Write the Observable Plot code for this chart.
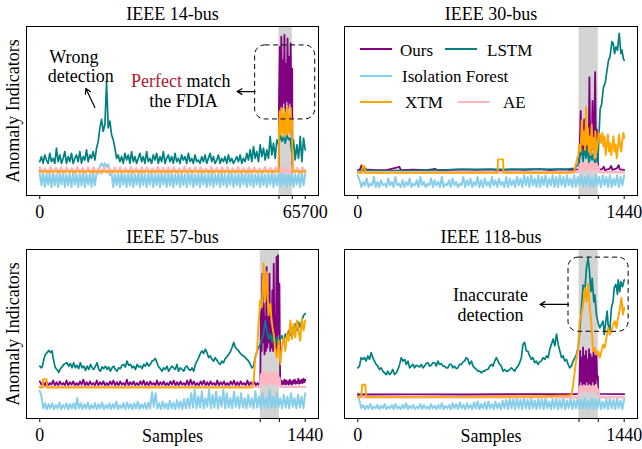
<!DOCTYPE html>
<html><head><meta charset="utf-8">
<script src="https://cdn.jsdelivr.net/npm/d3@7"></script>
<script src="https://cdn.jsdelivr.net/npm/@observablehq/plot@0.6"></script>
<style>
body{margin:0;background:#fff;}
#fig{position:relative;width:642px;height:449px;background:#fff;overflow:hidden;}
.panel{position:absolute;}
.panel svg{overflow:visible;background:none !important;}
#legend{position:absolute;left:0;top:0;pointer-events:none;}
</style></head><body><div id="fig"></div>
<script>
// ---------- general ----------
const FONT = "'Liberation Serif','Times New Roman',serif";
const seriesNames = ["Ours","LSTM","Isolation Forest","XTM","AE"];
const seriesColors = ["#800080","#008080","#87CEEB","#FFA500","#FFB6C1"];
const titles = ["IEEE 14-bus","IEEE 30-bus","IEEE 57-bus","IEEE 118-bus"];
const sampleEnds = [65700,1440,1440,1440];
const attackWindows = [[59200,62500],[1196,1300],[1196,1300],[1196,1300]];

// Series entries: [x, value] points, or [x0, x1, [values]] evenly spaced runs.
// ---------- IEEE 14-bus ----------
const lstm14 = [[0,65700,[20,23,19,24,21,19,25,20,22,19,
28,20,24,19,22,26,19,23,20,25,
19,22,24,20,26,19,23,21,27,20,
24,22,26,21,28,
32,40,45,38,42,67,40,44,36,33,28,
22,24,20,23,19,25,21,24,19,26,20,23,19,22,
25,20,23,19,26,20,22,19,24,21,25,19,23,20,26,19,22,24,20,23,
19,25,20,22,19,24,21,23,19,25,20,22,19,24,20,21,19,23,20,24,
19,22,25,20,23,19,21,24,19,22,20,23,19,24,20,22,19,21,23,20,
24,19,22,20,25,21,27,20,
29,22,26,20,30,23,28,21,27,22,35,24,31,22,33,
30,36,32,35,31,36,33,34,25,
33,21,30,22,35,20,34,27]]];
const iforest14 = [[0,65700,[13,6,13.5,5,12.5,6.5,13,5,13.5,6,12.5,5,13,6.5,13.5,5,12.5,6,13,5,13.5,6.5,12.5,5,13,6,13.5,5,12.5,6.5,13,5,13.5,6,13,
13,17,19,17.5,19,17,18.5,12,
13.5,5,12.5,6,13,5,13.5,6.5,12.5,5,13,6,13.5,5,12.5,6.5,13,5,13.5,6,12.5,5,13,6.5,
13.5,5,12.5,6,13,5,13.5,6.5,12.5,5,13,6,13.5,5,12.5,6.5,13,5,13.5,6,12.5,5,13,6.5,
13.5,5,12.5,6,13,5,13.5,6.5,12.5,5,13,6,13.5,5,12.5,6.5,13,5,13.5,6,12.5,5,13,6.5,
13.5,5,12.5,6,13,5,13.5,6.5,12.5,5,13,6,13.5,5,12.5,6.5,13,5,13.5,6,12.5,5,13,6.5,
13.5,5,12.5,6,13,5,13.5,6.5,12.5,5,13,6,13.5,5,12.5,6.5,13,5,13.5,6,13]]];
const ae14 = [[0,65700,[16.5,13.5,16,13,16.8,13.5,16.2,13,16.5,13.2, 16.5,13.5,16,13,16.8,13.5,16.2,13,16.5,13.2, 16.5,13.5,16,13,16.8,13.5,16.2,13,16.5,13.2, 16.5,13.5,16,13,16.8,13.5,16.2,13,16.5,13.2, 16.5,13.5,16,13,16.8,13.5,16.2,13,16.5,13.2, 16.5,13.5,16,13,16.8,13.5,16.2,13,16.5,13.2, 16.5,13.5,16,13,16.8,13.5,16.2,13,16.5,13.2, 16.5,13.5,16,13,16.8,13.5,16.2,13,16.5,13.2, 16.5,13.5,16,13,16.8,13.5,16.2,13,16.5,13.2, 16.5,13.5,16,13,16.8,13.5,16.2,13,16.5,13.2]]];
const xtm14 = [[0,14.2],[59150,14.2],[59200,62480,[40,50,36,52,38,48,35,51,37,49,36,53,38,47,36,52,40,45]],[62530,14.2],[65700,14.2]];
const ours14 = [[0,14.5],[59150,14.5],[59200,62480,[55,88,50,94,52,80,55,95,50,78,56,93,52,82,55,90,52,75]],[62530,14.5],[65700,14.5]];

// ---------- IEEE 30-bus ----------
const lstm30 = [[0,14.5],[18,15],[36,16.3],[54,15],[90,14.8],[150,14.6],[220,14.9],[300,14.8],[380,15],[450,15.1],[520,15.3],[600,15.4],[680,15.5],[760,15.4],[840,15.5],[920,15.6],[1000,15.5],[1080,15.6],[1140,15.7],[1170,16],[1190,18],[1200,23],[1210,27],[1218,20],[1226,29],[1234,22],[1242,28],[1250,19],[1258,26],[1266,21],[1274,25],[1282,18],[1290,22],[1298,20],[1302,31],[1310,51],[1318,54],[1328,64],[1338,67],[1347,74],[1355,80],[1363,82],[1374,91],[1381,90],[1388,84],[1396,88],[1404,86],[1413,96],[1422,84],[1428,86],[1436,81],[1440,80]];
const iforest30 = [[0,1440,[12,9,5,8,6,10,5,7,6,11, 5,8,5,9,6,7,5,10,6,8, 5,11,6,7,5,9,5,8,6,10, 5,7,6,9,5,11,6,8,5,7, 6,10,5,9,6,8,5,11,5,7, 6,9,5,10,6,8,5,7,6,11, 5,9,6,10,5,8,6,11,5,9, 5,10,6,8,5,11,6,9,5,10, 6,8,5,11,5,10,6,9,5,11, 6,10,
5,12,6,11,5,12,6,10,5,12, 5,11,6,12,5,10,6,12,5,11, 5,12,6,11,5,12,6,10,5,12, 5,11,6,12,5,11,6,12,5,10, 5,12,6,11,5,12,6,11,5,12, 5,10,6,12,5,11,6,12]]];
const xtm30 = [[0,13.5],[22,13.5],[27,17.4],[36,17.4],[40,13.5],[755,13.5],[758,21.4],[785,21.4],[788,13.5],[1000,13.5],[1150,13.5],[1168,14],[1178,18],[1186,22],[1192,24],[1198,30],[1204,26],[1211,44.6],[1217,30],[1223,38],[1229,27],[1234,52.5],[1239,30],[1244,40],[1249,26],[1254,35],[1259,24],[1264,42],[1269,28],[1274,34],[1279,22],[1284,38],[1290,25],[1296,30],[1302,37],[1309,36],[1316,31],[1322,37],[1328,29],[1334,35],[1340,24],[1346,30],[1352,36],[1358,26],[1364,31],[1370,24],[1376,29],[1382,35],[1388,26],[1394,30],[1400,22],[1406,28],[1412,36],[1418,30],[1424,26],[1430,33],[1436,37],[1440,34]];
const ae30 = [[0,13.8],[1190,13.8],[1196,1300,[15,18.5,15.5,19,15,18.8,15.5,18.5,15,19,15.5,18.6,15,18.8,15.5,18.5,15,19,15.5,18.5,15,18.8,15.5,17]],[1306,13.8],[1440,13.8]];
const ours30 = [[0,15],[10,15.2],[20,17.8],[28,15],[60,15.3],[100,15],[160,15.2],[225,17],[232,15],[300,15.3],[370,15],[420,15.8],[428,15],[480,15.1],[560,15.4],[640,15.2],[720,15.5],[760,15],[840,15.4],[900,15.2],[980,15.6],[1040,15.1],[1100,15.4],[1150,15.2],[1190,15.5],[1196,16],[1200,30],[1205,50],[1210,28],[1215,38],[1220,25],[1224,45],[1229,27],[1234,36],[1239,26],[1244,40],[1248,28],[1252,70],[1256,30],[1260,42],[1264,27],[1269,56],[1273,30],[1278,35],[1283,73],[1287,30],[1292,39],[1296,25],[1300,16],[1305,15.5],[1320,15.5],[1330,17],[1336,15],[1360,15.8],[1370,17.5],[1376,15.2],[1400,16],[1410,18],[1416,15.5],[1440,15.2]];

// ---------- IEEE 57-bus ----------
const lstm57 = [[0,31],[7,30],[13,30.5],[22,35],[31,38],[40,39],[49,40.3],[58,39],[67,40],[72,36],[80,32],[85,30],[94,29],[103,27.2],[112,29.5],[121,30.5],[130,32],[139,32.5],[148,33],[157,31],[166,32.5],[175,30],[184,33],[193,30],[202,31.5],[211,29.5],[220,33],[229,30],[239,31],[248,28.5],[257,31],[266,29],[275,32],[284,30],[293,29],[302,31],[311,33],[320,29],[329,28],[338,30.5],[347,29.5],[356,31],[365,29],[374,30.5],[383,28],[392,30],[401,31],[410,29],[419,28],[428,30],[437,29.5],[446,31.5],[455,32],[464,30.5],[473,34],[482,31.5],[492,32],[501,30],[510,31],[519,29],[528,32],[537,30.5],[546,31],[555,29.5],[564,32],[573,31],[582,33],[591,31],[600,32],[609,34],[618,34.5],[627,35.5],[636,33],[645,30.5],[654,29.5],[663,28],[672,30],[681,29],[690,31],[699,28],[708,29.5],[717,31],[726,30],[735,29],[744,32],[753,28],[763,30],[772,29],[781,28],[790,30.5],[799,31],[808,29],[817,28.5],[826,30],[835,28],[844,32],[853,34],[862,36],[871,38.5],[880,40],[889,38.5],[898,41],[907,39],[916,36],[925,37],[934,35],[943,34],[952,36],[961,34.5],[970,33],[979,32],[988,34],[997,33],[1006,35.5],[1016,36.5],[1025,38],[1034,39.5],[1043,42],[1052,45],[1061,42],[1070,41],[1079,40],[1088,38.5],[1097,37.5],[1106,37],[1115,36],[1124,35],[1133,34],[1142,32],[1151,30],[1160,31],[1169,36.5],[1178,39.5],[1187,42],[1196,44],[1205,47],[1214,50],[1223,58],[1232,52],[1241,47],[1251,50],[1260,45],[1269,50],[1278,44],[1287,48],[1296,45],[1305,47],[1314,49],[1323,45],[1332,50],[1341,48],[1350,52],[1359,49],[1368,54],[1377,50],[1386,56],[1395,52],[1404,57],[1413,54],[1422,58],[1431,61],[1440,62]];
const iforest57 = [[0,1440,[16.3,13,6,9,5.5,8.5,6,9,5.5,8, 6,9.5,5.5,8,6,9,5.5,8.5,6,9, 5.5,12,6,9,5.5,8.5,6,9.5,5.5,8, 6,9,5.5,8.5,6,9.5,5.5,8,6,9, 5.5,8.5,6,10,5.5,8,6,9,5.5,9.5, 6,8.5,5.5,9,6,10,5.5,8.5,6,9, 5.5,9.5,6,15.5,7,15,6,9,5.5,10, 6,9,5.5,10.5,6,9.5,5.5,11,6,10, 5.5,11.5,6,12,6,15,6.5,17,6,13, 6.5,16,6,12,7,17,6,14,6.5,16, 6,13,7,17,6,15,6.5,12,6,16, 7,13,6,15,6.5,12,6,14,7,12, 6,16,6.5,13,6,15,7,12,6,17, 6.5,13,6,15,7,12,6,14,6.5,13, 6,15,7,12,6,14,6.5,13,6,15]]];
const xtm57 = [[0,18.3],[15,18.3],[18,23.2],[36,23.2],[40,18.3],[600,18.3],[1151,18.3],[1160,22.2],[1169,36],[1178,39],[1187,56],[1196,70],[1205,66],[1210,78],[1214,91.7],[1219,75],[1223,70],[1228,80],[1232,86.7],[1237,70],[1241,61],[1246,66],[1251,68],[1256,60],[1260,56],[1265,52],[1269,50],[1274,44],[1278,40],[1283,38],[1287,36],[1292,42],[1296,46],[1301,38],[1305,32],[1310,38],[1314,42],[1319,46],[1323,48],[1328,44],[1332,40],[1337,46],[1341,50],[1346,48],[1350,46],[1355,52],[1359,58],[1364,52],[1368,47],[1373,50],[1377,56],[1382,52],[1386,48],[1391,54],[1395,58],[1400,56],[1404,52],[1409,48],[1413,46],[1418,54],[1422,59],[1427,56],[1431,52],[1436,55],[1440,58]];
const ae57 = [[0,18.7],[1192,18.7],[1196,1300,[20,26,21,27,20.5,26.5,21,27.5,20,26,21,27,20.5,26.5,21,27,20,26.5,21,27,20.5,26,21,24]],[1305,18.7],[1440,18.7]];
const ours57 = [[0,1190,[22,20,21.5,19.5,22,19.5,21,20,22.5,19.5,21.5,19.5,22,20,21,19.5,22.5,19.5,21.5,20,22,19.5,21,19.5,22,20,23,19.5,21.5,19.5,22,20,21,19.5,22.5,19.5,21.5,20,22,19.5,21,19.5,22,20,22.5,19.5,21.5,19.5,22,20,21,19.5,23,19.5,21.5,20,22,19.5,21,19.5,22,20,22.5,19.5,21.5,19.5,22,20,21,19.5,22.5,19.5,21.5,20,22,19.5,21,19.5,22,20,22.5,19.5,21.5,19.5,22,20,21,19.5,22.5,19.5,23,20,22,19.5,21,19.5,22,20,22.5,19.5,21.5,19.5,22,20,21,19.5,22.5,19.5,21.5,20,22,19.5,21,19.5,22,20,22.5,19.5,21.5,19.5,22,20,21,19.5,22.5,19.5,21.5,20,22,19.5,21,19.5]],
 [1196,1300,[22,64,40,85.7,45,67.9,38,60,40,89.7,42,60,45,85.7,40,56,42,75.8,40,91.7,45,60,42,95.6,40,96.6,50,79.8]],
 [1304,1440,[21,22.5,20,22,20.5,23,20,22.5,20.5,22,20,23,20.5,22,20,22.5,21,23,20.5,22,21,23.5,20.5,22.5,21,23,21,23.5,21.5,23]]];

// ---------- IEEE 118-bus ----------
const lstm118 = [[0,30],[9,31],[18,36],[27,35],[36,36],[45,34],[54,37],[63,35],[72,39],[81,36],[90,34],[99,32],[108,31],[117,29],[126,30],[135,28],[144,27],[153,26],[162,28],[171,26],[180,27],[189,29],[198,26],[208,27],[217,29],[226,32],[235,36],[244,34],[253,35],[262,32],[271,34],[280,30],[289,31],[298,32],[307,30],[316,31.5],[325,31],[334,30.5],[343,32],[352,30],[361,31],[370,32.5],[379,33],[388,31],[397,31.5],[406,33],[415,33],[424,31],[433,34],[442,32],[451,32.5],[460,31],[469,31],[478,30],[487,30],[496,32],[505,32],[514,30],[523,31],[532,29.5],[541,30],[550,32],[559,32],[568,33.5],[577,34],[586,36],[595,35],[604,32],[614,34],[623,31],[632,30],[641,29],[650,28],[659,28],[668,27],[677,28],[686,28],[695,29],[704,29],[713,31],[722,32],[731,31],[740,34],[749,36],[758,34],[767,32],[776,31],[785,28],[794,29],[803,28],[812,28],[821,29],[830,30],[839,29],[848,28],[857,30],[866,31],[875,33],[884,36],[893,44],[902,45],[911,40],[920,39.8],[929,37],[938,35],[947,36],[956,33],[965,34],[974,32],[983,33.5],[992,34],[1001,36],[1011,35],[1020,37],[1029,36],[1038,41],[1047,44],[1056,47],[1065,43],[1074,50],[1083,44],[1092,40],[1101,36],[1110,37],[1119,34],[1128,35],[1137,32],[1146,30],[1155,31],[1164,34],[1173,36],[1182,38],[1191,42],[1200,52],[1209,65.5],[1218,79],[1227,75],[1236,89],[1245,95],[1251,89],[1260,75],[1267,83],[1276,69],[1281,73],[1290,61.5],[1299,56.6],[1308,53.6],[1317,55.6],[1326,57.6],[1332,49.7],[1339,55.6],[1348,63.5],[1353,55.6],[1362,51.7],[1371,65.5],[1380,69.4],[1386,77.3],[1395,79.3],[1404,73.4],[1407,82],[1416,75],[1422,81],[1431,78],[1440,82]];
const iforest118 = [[0,1440,[15,10,6,8,5.5,7.5,6,8.5,5.5,7, 6,8,5.5,7.5,6,8.5,5.5,7,6,8, 5.5,8.5,6,7,5.5,8,6,9,5.5,7.5, 6,8,5.5,7,6,8.5,5.5,8,6,7, 5.5,8.5,6,7.5,5.5,8,6,9,5.5,7.5, 6,8,5.5,9,6,8.5,5.5,9.5,6,8, 5.5,9,6,8,5.5,9.5,6,10,5.5,8.5, 6,9.5,5.5,10,6,8.5,5.5,10,6,9, 5.5,10.5,6,11,5.5,12,6,11.5,5.5,12, 6,11,5.5,12.2,6,11,5.5,12,6,10.5, 5.5,12,6,11.5,5.5,12.2,6,10,5.5,11.5, 6,12,5.5,11,6,12.2,5.5,10.5,6,12, 5.5,11,6,12.5,5.5,11,6,12,5.5,10.5, 6,12,5.5,11.5,6,12.2,5.5,10,6,11.5, 5.5,12,6,11,5.5,12.2,6,10.5,5.5,11.5]]];
const xtm118 = [[0,12.8],[18,12.8],[24,20],[40,20],[46,12.8],[500,12.8],[1000,13.2],[1140,13.6],[1155,14],[1164,20],[1173,28],[1182,36],[1191,41.8],[1200,57.6],[1209,61.5],[1218,67],[1227,77.3],[1236,69],[1245,79.9],[1254,65.5],[1263,55.6],[1272,39.8],[1281,41.8],[1290,37.9],[1299,39.8],[1308,35.9],[1317,39.8],[1326,43.8],[1335,41.8],[1344,47.7],[1353,53.6],[1362,49.7],[1371,51.7],[1380,55.6],[1389,57.6],[1398,53.6],[1407,59.6],[1416,64.5],[1425,71.4],[1434,61.5],[1440,65.5]];
const ae118 = [[0,12.6],[1192,12.6],[1196,1300,[16,19,16.5,19,16,18.8,16.5,19,16,18.8,16.5,19,16,18.8,16.5,19,16,18.8,16.5,19,16,17]],[1304,12.6],[1440,12.6]];
const ours118 = [[0,14.2],[300,14.3],[600,14.2],[900,14.4],[1190,14.4],[1196,16],[1198,1298,[20,40,22,36,19,42,21,37,20,40,22,35,20,41,21,38,19,36,22,40,20,37,21,39,23,25]],[1300,14.6],[1440,14.4]];

// ---------- annotations ----------
const notes14 = [
  {text:"Wrong", x:8430, y:78.6, anchor:"middle", fill:"#000"},
  {text:"detection", x:10160, y:67, anchor:"middle", fill:"#000"},
  {text:"Perfect", x:35200, y:64.1, anchor:"end", fill:"#B0172F"},
  {text:"match", x:36320, y:64.1, anchor:"start", fill:"#000"},
  {text:"the FDIA", x:35570, y:52.2, anchor:"middle", fill:"#000"}
];
const arrows14 = [{x1:13635,y1:52.1,x2:11403,y2:63.3},{x1:53300,y1:61.5,x2:48840,y2:61.5}];
const boxes14 = [{x1:53300,x2:68170,y1:45,y2:88.8}];
const notes118 = [
  {text:"Inaccurate", x:717, y:69.4, anchor:"middle", fill:"#000"},
  {text:"detection", x:717, y:57.6, anchor:"middle", fill:"#000"}
];
const arrows118 = [{x1:1139,y1:67.5,x2:985,y2:67.5}];
const boxes118 = [{x1:1139,x2:1464,y1:51.3,y2:95.2}];

// ---------- helpers ----------
function expand(entries){
  const out=[];
  for(const e of entries){
    if(e.length===3 && Array.isArray(e[2])){
      const [a,b,vals]=e, n=vals.length;
      vals.forEach((v,i)=>out.push({x: a+(b-a)*i/(n-1), y:v}));
    } else out.push({x:e[0], y:e[1]});
  }
  return out;
}

const panels = [
  {series:[ours14,lstm14,iforest14,xtm14,ae14], pos:[0,0,224], m:[26,3,26,29], ylab:true, xlab:false, notes:notes14, arrows:arrows14, boxes:boxes14},
  {series:[ours30,lstm30,iforest30,xtm30,ae30], pos:[321,0,224], m:[23,5,26,29], ylab:false, xlab:false},
  {series:[ours57,lstm57,iforest57,xtm57,ae57], pos:[0,224,225], m:[26,3,25,31], ylab:true, xlab:true},
  {series:[ours118,lstm118,iforest118,xtm118,ae118], pos:[321,224,225], m:[23,5,25,31], ylab:false, xlab:true, notes:notes118, arrows:arrows118, boxes:boxes118}
];
// drawing order: Isolation Forest, Ours, LSTM, AE, XTM
const drawOrder = [2,0,1,4,3];
const widths = [1.8,1.7,2,1.9,2.4];

const fig = document.getElementById("fig");
panels.forEach((p,k)=>{
  const end = sampleEnds[k];
  const win = attackWindows[k];
  const marks = [
    Plot.rect([win], {x1:d=>d[0], x2:d=>d[1], fill:"#d3d3d3"})
  ];
  for(const s of drawOrder){
    marks.push(Plot.line(expand(p.series[s]), {x:"x", y:"y", stroke:seriesColors[s], strokeWidth:widths[s]}));
  }
  marks.push(Plot.frame({stroke:"#000", strokeWidth:1}));
  marks.push(Plot.axisX({ticks:[0,win[0],win[1],end], tickFormat:d=>(d===0||d===end)?String(d):"", tickSize:4, tickPadding:6, label:null, fontSize:18, stroke:"#000", fill:"#000"}));
  marks.push(Plot.text([titles[k]], {text:d=>d, frameAnchor:"top", dy:-7, lineAnchor:"bottom", fontSize:18, fill:"#000"}));
  if(p.ylab) marks.push(Plot.text(["Anomaly Indicators"], {text:d=>d, frameAnchor:"left", textAnchor:"middle", rotate:-90, dx:-8, lineAnchor:"bottom", fontSize:18, fill:"#000"}));
  if(p.xlab) marks.push(Plot.text(["Samples"], {text:d=>d, frameAnchor:"bottom", dy:23, lineAnchor:"bottom", fontSize:18, fill:"#000"}));
  if(p.boxes) marks.push(Plot.rect(p.boxes, {x1:"x1", x2:"x2", y1:"y1", y2:"y2", fill:"none", stroke:"#000", strokeWidth:1, strokeDasharray:"5,3.5", rx:10}));
  if(p.arrows) marks.push(Plot.arrow(p.arrows, {x1:"x1", y1:"y1", x2:"x2", y2:"y2", stroke:"#000", strokeWidth:1.2, headLength:7}));
  if(p.notes){
    for(const a of ["middle","start","end"]){
      const sub = p.notes.filter(n=>n.anchor===a);
      if(sub.length) marks.push(Plot.text(sub, {x:"x", y:"y", text:"text", fill:"fill", textAnchor:a, lineAnchor:"bottom", fontSize:18}));
    }
  }
  const svg = Plot.plot({
    width:321, height:p.pos[2],
    marginLeft:p.m[0], marginRight:p.m[1], marginTop:p.m[2], marginBottom:p.m[3],
    x:{domain:[-0.05*end, 1.05*end]},
    y:{domain:[0,100], axis:null},
    style:{fontFamily:FONT, fontSize:"18px", background:"none", overflow:"visible", color:"#000"},
    marks
  });
  const div = document.createElement("div");
  div.className="panel";
  div.style.left=p.pos[0]+"px"; div.style.top=p.pos[1]+"px";
  div.appendChild(svg);
  fig.appendChild(div);
});

// ---------- legend (in the IEEE 30-bus panel) ----------
const legendLayout = [
  {i:0, lx:360, ly:49, tx:400, ty:55.5},
  {i:1, lx:445, ly:49, tx:487, ty:55.5},
  {i:2, lx:360, ly:76, tx:402, ty:82},
  {i:3, lx:360, ly:102, tx:405, ty:108},
  {i:4, lx:458, ly:102, tx:503, ty:108}
];
const leg = d3.create("svg").attr("id","legend").attr("width",642).attr("height",449);
for(const L of legendLayout){
  leg.append("line").attr("x1",L.lx).attr("x2",L.lx+32).attr("y1",L.ly).attr("y2",L.ly)
    .attr("stroke",seriesColors[L.i]).attr("stroke-width",2);
  leg.append("text").attr("x",L.tx).attr("y",L.ty).attr("font-family",FONT).attr("font-size",17)
    .attr("fill","#000").text(seriesNames[L.i]);
}
fig.appendChild(leg.node());
</script></body></html>
